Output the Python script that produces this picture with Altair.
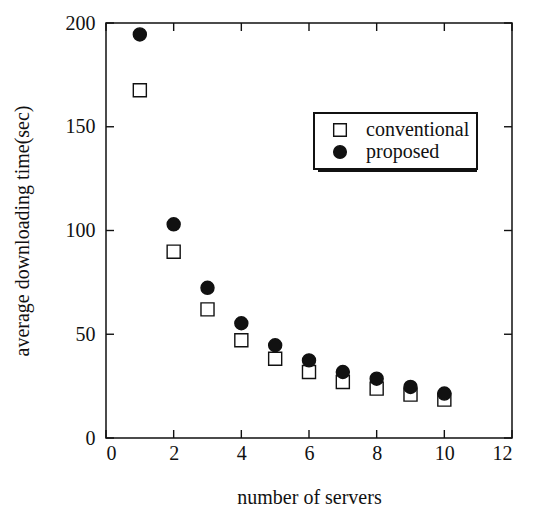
import altair as alt
import pandas as pd

servers = [1, 2, 3, 4, 5, 6, 7, 8, 9, 10]
conventional = [167.6, 89.8, 62.0, 47.1, 38.2, 31.8, 27.0, 23.8, 20.9, 18.5]
proposed = [194.5, 103.0, 72.4, 55.3, 44.7, 37.4, 31.8, 28.6, 24.6, 21.4]
series_names = ["conventional", "proposed"]
x_ticks = [0, 2, 4, 6, 8, 10, 12]
y_ticks = [0, 50, 100, 150, 200]

W, H = 406, 415
FONT = "Liberation Serif"

rows = []
for s, vals in zip(series_names, [conventional, proposed]):
    for x, v in zip(servers, vals):
        rows.append({"servers": x, "time": v, "series": s})
df = pd.DataFrame(rows)

xs = alt.Scale(domain=[0, 12], nice=False)
ys = alt.Scale(domain=[0, 200], nice=False)

xaxis = alt.Axis(values=x_ticks, ticks=False, domain=False, grid=False,
                 labelPadding=5, labelFontSize=20, labelFont=FONT, labelColor="#111",
                 title="number of servers", titleFontSize=20, titleFont=FONT,
                 titleFontWeight="normal", titleColor="#111", titleY=49)
yaxis = alt.Axis(values=y_ticks, ticks=False, domain=False, grid=False,
                 labelPadding=11, labelFontSize=20, labelFont=FONT, labelColor="#111",
                 title="average downloading time(sec)", titleFontSize=20, titleFont=FONT,
                 titleFontWeight="normal", titleColor="#111", titleX=-84,
                 titleBaseline="middle")

legend = alt.Legend(title=None, orient="none", legendX=208, legendY=90,
                    padding=7, symbolOffset=9, labelOffset=16, rowPadding=2,
                    labelFont=FONT, labelFontSize=20, labelColor="#111",
                    strokeColor="#111", fillColor="white",
                    symbolSize=160, symbolStrokeWidth=1.4)

shadow = alt.Chart(pd.DataFrame({"a": [0]})).mark_rect(color="#111").encode(
    x=alt.value(212), x2=alt.value(371), y=alt.value(94), y2=alt.value(149)
)

points = alt.Chart(df).mark_point(filled=True, strokeWidth=1.4, opacity=1).encode(
    x=alt.X("servers:Q", scale=xs, axis=xaxis),
    y=alt.Y("time:Q", scale=ys, axis=yaxis),
    shape=alt.Shape("series:N", scale=alt.Scale(domain=series_names, range=["square", "circle"]),
                    legend=legend),
    fill=alt.Fill("series:N", scale=alt.Scale(domain=series_names, range=["white", "#111"]),
                  legend=legend),
    stroke=alt.Stroke("series:N", scale=alt.Scale(domain=series_names, range=["#111", "#111"]),
                      legend=legend),
    size=alt.value(170),
    order=alt.Order("series:N"),
)

xt = pd.DataFrame({"v": x_ticks})
yt = pd.DataFrame({"v": y_ticks})
tick_style = dict(color="#111", strokeWidth=1.4)
xb = alt.Chart(xt).mark_rule(**tick_style).encode(x=alt.X("v:Q", scale=xs), y=alt.value(H), y2=alt.value(H - 8))
xtp = alt.Chart(xt).mark_rule(**tick_style).encode(x=alt.X("v:Q", scale=xs), y=alt.value(0), y2=alt.value(8))
yl = alt.Chart(yt).mark_rule(**tick_style).encode(y=alt.Y("v:Q", scale=ys), x=alt.value(0), x2=alt.value(8))
yr = alt.Chart(yt).mark_rule(**tick_style).encode(y=alt.Y("v:Q", scale=ys), x=alt.value(W), x2=alt.value(W - 8))

chart = alt.layer(xb, xtp, yl, yr, shadow, points).properties(
    width=W, height=H,
    autosize=alt.AutoSizeParams(type="none"),
    padding={"left": 106, "top": 23, "right": 23, "bottom": 68},
    background="white",
).configure_view(stroke="#111", strokeWidth=1.5).configure_legend(strokeWidth=2)

chart.save("out.html", embed_options={"renderer": "svg", "actions": False})
